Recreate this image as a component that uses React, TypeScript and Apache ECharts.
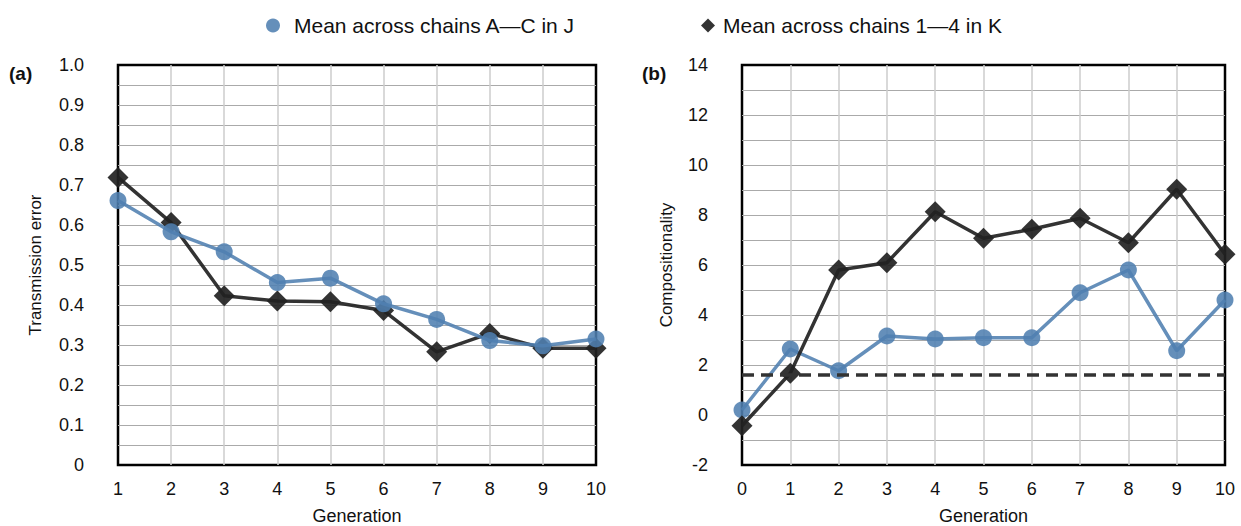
import React, { useEffect, useRef } from "react";
import * as echarts from "echarts";

const genA = [1, 2, 3, 4, 5, 6, 7, 8, 9, 10];
const errJ = [0.661, 0.583, 0.533, 0.456, 0.467, 0.403, 0.364, 0.311, 0.298, 0.315];
const errK = [0.719, 0.606, 0.423, 0.41, 0.408, 0.386, 0.283, 0.329, 0.292, 0.292];

const genB = [0, 1, 2, 3, 4, 5, 6, 7, 8, 9, 10];
const compJ = [0.2, 2.64, 1.77, 3.16, 3.04, 3.09, 3.09, 4.89, 5.8, 2.57, 4.6];
const compK = [-0.43, 1.67, 5.8, 6.09, 8.13, 7.07, 7.43, 7.87, 6.89, 9.03, 6.43];
const baseline = 1.63;

const nameJ = "Mean across chains A\u2014C in J";
const nameK = "Mean across chains 1\u20144 in K";

const BLUE = "#5080b0";
const BLACK = "#222222";
const FONT = "'Liberation Sans', Arial, Helvetica, sans-serif";

export default function App() {
  const ref = useRef<HTMLDivElement>(null);
  useEffect(() => {
    document.body.style.margin = "0";
    const chart = echarts.init(ref.current!, undefined, { renderer: "svg" });
    const pair = (xs: number[], ys: number[]) => xs.map((x, i) => [x, ys[i]]);
    const xAxisCommon = (min: number, grid: number) => ({
      type: "value" as const,
      gridIndex: grid,
      min,
      max: 10,
      interval: 1,
      name: "Generation",
      nameLocation: "middle" as const,
      nameGap: 41,
      nameTextStyle: { fontSize: 18, color: "#111", fontFamily: FONT, lineHeight: 19 },
      axisLine: { show: false },
      axisTick: { show: false },
      axisLabel: { fontSize: 18, color: "#111", margin: 15, fontFamily: FONT },
      splitLine: { show: true, showMinLine: false, showMaxLine: false, lineStyle: { color: "#cccccc", width: 1.5 } },
    });
    const yAxisCommon = (grid: number) => ({
      type: "value" as const,
      gridIndex: grid,
      nameLocation: "middle" as const,
      nameTextStyle: { fontSize: 17, color: "#111", fontFamily: FONT },
      axisLine: { show: false },
      axisTick: { show: false },
      splitLine: { show: true, showMinLine: false, showMaxLine: false, lineStyle: { color: "#aaaaaa", width: 1.2 } },
      minorTick: { show: false, splitNumber: 2 },
      minorSplitLine: { show: true, lineStyle: { color: "#aaaaaa", width: 1.2 } },
    });
    const legendCommon = {
      top: 10,
      itemWidth: 14,
      itemHeight: 14,
    };
    chart.setOption({
      animation: false,
      textStyle: { fontFamily: FONT },
      legend: [
        {
          ...legendCommon,
          left: 261,
          textStyle: { fontSize: 21, color: "#111", fontFamily: FONT, padding: [0, 0, 0, 9] },
          data: [{ name: nameJ, icon: "circle", itemStyle: { color: BLUE } }],
        },
        {
          ...legendCommon,
          left: 696,
          textStyle: { fontSize: 21, color: "#111", fontFamily: FONT, padding: [0, 0, 0, 3] },
          data: [{ name: nameK, icon: "diamond", itemStyle: { color: BLACK } }],
        },
      ],
      grid: [
        { left: 118, top: 65, width: 478, height: 400, outerBoundsMode: "none", containLabel: false, show: true, borderColor: "#000", borderWidth: 2.5, backgroundColor: "transparent" },
        { left: 742, top: 65, width: 483, height: 400, outerBoundsMode: "none", containLabel: false, show: true, borderColor: "#000", borderWidth: 2.5, backgroundColor: "transparent" },
      ],
      xAxis: [xAxisCommon(1, 0), xAxisCommon(0, 1)],
      yAxis: [
        {
          ...yAxisCommon(0),
          min: 0,
          max: 1,
          interval: 0.1,
          name: "Transmission error",
          nameGap: 74,
          axisLabel: {
            fontSize: 18,
            color: "#111",
            margin: 34,
            fontFamily: FONT,
            formatter: (v: number) => (v === 0 ? "0" : v.toFixed(1)),
          },
        },
        {
          ...yAxisCommon(1),
          min: -2,
          max: 14,
          interval: 2,
          name: "Compositionality",
          nameGap: 67,
          axisLabel: { fontSize: 18, color: "#111", margin: 34, fontFamily: FONT },
        },
      ],
      graphic: [
        { type: "text", left: 9, top: 64, style: { text: "(a)", font: `bold 19px ${FONT}`, fill: "#111" } },
        { type: "text", left: 642, top: 64, style: { text: "(b)", font: `bold 19px ${FONT}`, fill: "#111" } },
      ],
      series: [
        {
          name: nameK,
          type: "line",
          xAxisIndex: 0,
          yAxisIndex: 0,
          data: pair(genA, errK),
          symbol: "diamond",
          symbolSize: 21,
          lineStyle: { color: BLACK, width: 3.5, opacity: 0.92 },
          itemStyle: { color: BLACK, opacity: 0.92 },
          z: 3,
        },
        {
          name: nameJ,
          type: "line",
          xAxisIndex: 0,
          yAxisIndex: 0,
          data: pair(genA, errJ),
          symbol: "circle",
          symbolSize: 17,
          lineStyle: { color: BLUE, width: 3.5, opacity: 0.88 },
          itemStyle: { color: BLUE, opacity: 0.88 },
          z: 4,
        },
        {
          name: nameJ,
          type: "line",
          xAxisIndex: 1,
          yAxisIndex: 1,
          data: pair(genB, compJ),
          symbol: "circle",
          symbolSize: 17,
          lineStyle: { color: BLUE, width: 3.5, opacity: 0.88 },
          itemStyle: { color: BLUE, opacity: 0.88 },
          z: 3,
          markLine: {
            silent: true,
            symbol: "none",
            label: { show: false },
            lineStyle: { color: "#333", width: 3.5, type: [12, 7] },
            data: [{ yAxis: baseline }],
          },
        },
        {
          name: nameK,
          type: "line",
          xAxisIndex: 1,
          yAxisIndex: 1,
          data: pair(genB, compK),
          symbol: "diamond",
          symbolSize: 21,
          lineStyle: { color: BLACK, width: 3.5, opacity: 0.92 },
          itemStyle: { color: BLACK, opacity: 0.92 },
          z: 4,
        },
      ],
    });
    return () => chart.dispose();
  }, []);
  return <div ref={ref} style={{ width: 1241, height: 526, position: "absolute", left: 0, top: 0 }} />;
}
